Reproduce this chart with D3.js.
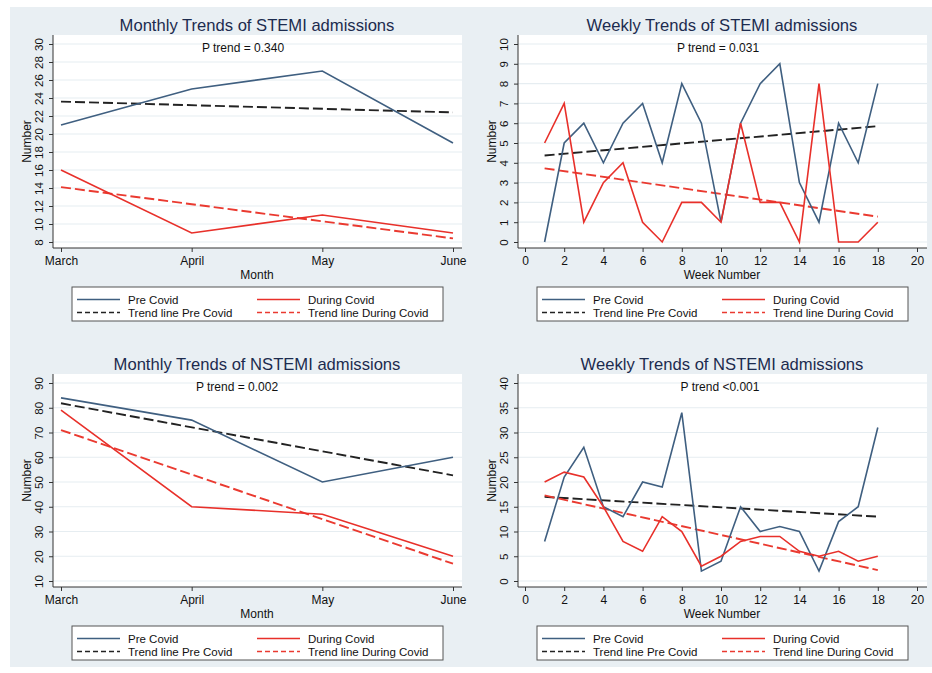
<!DOCTYPE html>
<html><head><meta charset="utf-8">
<script src="https://cdn.jsdelivr.net/npm/d3@7"></script>
<style>body{margin:0;background:#fff}svg{display:block;font-family:"Liberation Sans",Arial,sans-serif}</style>
</head><body><svg id="c" width="932" height="673"></svg>
<script>
// ---------- data ----------
const months = ["March","April","May","June"];
const weeks = [1,2,3,4,5,6,7,8,9,10,11,12,13,14,15,16,17,18];

const stemiMonthPre    = [21,25,27,19];
const stemiMonthDuring = [16,9,11,9];
const stemiMonthTrendPre    = [23.6,22.4];
const stemiMonthTrendDuring = [14.1,8.4];

const stemiWeekPre    = [0,5,6,4,6,7,4,8,6,1,6,8,9,3,1,6,4,8];
const stemiWeekDuring = [5,7,1,3,4,1,0,2,2,1,6,2,2,0,8,0,0,1];
const stemiWeekTrendPre    = [4.37,5.85];
const stemiWeekTrendDuring = [3.72,1.28];

const nstemiMonthPre    = [84,75,50,60];
const nstemiMonthDuring = [79,40,37,20];
const nstemiMonthTrendPre    = [81.8,52.7];
const nstemiMonthTrendDuring = [71,17];

const nstemiWeekPre    = [8,21,27,15,13,20,19,34,2,4,15,10,11,10,2,12,15,31];
const nstemiWeekDuring = [20,22,21,15,8,6,13,10,3,5,8,9,9,6,5,6,4,5];
const nstemiWeekTrendPre    = [17,13];
const nstemiWeekTrendDuring = [17.3,2.2];

const stemiMonthTicks = [8,10,12,14,16,18,20,22,24,26,28,30];
const stemiWeekTicks = [0,1,2,3,4,5,6,7,8,9,10];
const nstemiMonthTicks = [10,20,30,40,50,60,70,80,90];
const nstemiWeekTicks = [0,5,10,15,20,25,30,35,40];
const weekTicks = [0,2,4,6,8,10,12,14,16,18,20];

const legendLabels = ["Pre Covid","During Covid","Trend line Pre Covid","Trend line During Covid"];

// ---------- style ----------
const C_PRE = "#3f5f80", C_DUR = "#e8302a", C_TPRE = "#222", C_TDUR = "#ea3a30";
const BG = "#e9eff3", GRID = "#e6edf1";

const svg = d3.select("#c");
svg.append("rect").attr("x",10).attr("y",7).attr("width",922).attr("height",660).attr("fill",BG);

function panel(o){
  const g = svg.append("g").attr("transform",`translate(${o.dx},${o.dy})`);
  const L=53, R=460, T=35, B=248;
  g.append("rect").attr("x",L).attr("y",T).attr("width",R-L+2).attr("height",B-T).attr("fill","#fff");
  const y = d3.scaleLinear().domain(o.ydom).range([242,44]);
  let x, xs;
  if(o.monthly){
    x = d3.scaleLinear().domain([0,3]).range([61,453]);
    xs = months.map((m,i)=>i);
  } else {
    x = d3.scaleLinear().domain([0,20]).range([525-465,917-465]);
    xs = weeks;
  }
  // gridlines
  g.append("g").selectAll("line").data(o.yticks).join("line")
    .attr("x1",L).attr("x2",R+2).attr("y1",d=>y(d)).attr("y2",d=>y(d))
    .attr("stroke",GRID).attr("stroke-width",1.2);
  // y axis
  const ya = d3.axisLeft(y).tickValues(o.yticks).tickSize(4).tickPadding(3);
  const yg = g.append("g").attr("transform",`translate(${L},0)`).call(ya);
  yg.select(".domain").remove();
  yg.selectAll(".tick line").attr("stroke","#333");
  yg.selectAll(".tick text").attr("font-size",11.5).attr("fill","#111")
    .attr("text-anchor","middle").attr("x",null).attr("dy",null)
    .attr("transform","translate(-10,0) rotate(-90)");
  g.append("line").attr("x1",L).attr("x2",L).attr("y1",T).attr("y2",B).attr("stroke","#333");
  // x axis
  const xa = d3.axisBottom(x).tickSize(4).tickPadding(4);
  if(o.monthly) xa.tickValues([0,1,2,3]).tickFormat(i=>months[i]);
  else xa.tickValues(weekTicks);
  const xg = g.append("g").attr("transform",`translate(0,${B})`).call(xa);
  xg.select(".domain").remove();
  xg.selectAll(".tick line").attr("stroke","#333");
  xg.selectAll(".tick text").attr("font-size",12).attr("fill","#111");
  g.append("line").attr("x1",L).attr("x2",R+2).attr("y1",B).attr("y2",B).attr("stroke","#333");
  // axis titles
  g.append("text").attr("transform",`translate(31,${(T+B)/2}) rotate(-90)`).attr("text-anchor","middle")
    .attr("font-size",12).attr("fill","#111").text("Number");
  g.append("text").attr("x",257).attr("y",279).attr("text-anchor","middle").attr("font-size",12)
    .attr("fill","#111").text(o.monthly?"Month":"Week Number");
  // title + p trend
  g.append("text").attr("x",257).attr("y",31).attr("text-anchor","middle").attr("font-size",16.6)
    .attr("fill","#1c2b4e").text(o.title);
  g.append("text").attr("x",o.px).attr("y",52).attr("text-anchor","middle").attr("font-size",12)
    .attr("fill","#111").text(o.ptext);
  // lines
  const line = d3.line().x(d=>x(d[0])).y(d=>y(d[1]));
  const first = xs[0], last = xs[xs.length-1];
  g.append("path").attr("d",line([[first,o.tPre[0]],[last,o.tPre[1]]])).attr("fill","none")
    .attr("stroke",C_TPRE).attr("stroke-width",1.9).attr("stroke-dasharray","10,4");
  g.append("path").attr("d",line([[first,o.tDur[0]],[last,o.tDur[1]]])).attr("fill","none")
    .attr("stroke",C_TDUR).attr("stroke-width",1.9).attr("stroke-dasharray","10,4");
  g.append("path").attr("d",line(xs.map((v,i)=>[v,o.pre[i]]))).attr("fill","none")
    .attr("stroke",C_PRE).attr("stroke-width",1.6);
  g.append("path").attr("d",line(xs.map((v,i)=>[v,o.dur[i]]))).attr("fill","none")
    .attr("stroke",C_DUR).attr("stroke-width",1.6);
  // legend
  const lg = g.append("g").attr("transform","translate(72,287)");
  lg.append("rect").attr("x",0).attr("y",0).attr("width",371).attr("height",34)
    .attr("fill","#fff").attr("stroke","#555").attr("stroke-width",1);
  const items = [
    {c:C_PRE,d:null,t:legendLabels[0],x:5,y:12.5},
    {c:C_DUR,d:null,t:legendLabels[1],x:185,y:12.5},
    {c:C_TPRE,d:"5,3",t:legendLabels[2],x:5,y:25.5},
    {c:C_TDUR,d:"5,3",t:legendLabels[3],x:185,y:25.5}];
  items.forEach(it=>{
    lg.append("line").attr("x1",it.x).attr("x2",it.x+43).attr("y1",it.y).attr("y2",it.y)
      .attr("stroke",it.c).attr("stroke-width",1.6).attr("stroke-dasharray",it.d);
    lg.append("text").attr("x",it.x+51).attr("y",it.y+4).attr("font-size",11.5)
      .attr("fill","#111").text(it.t);
  });
}

panel({dx:0,dy:0,monthly:true,ydom:[8,30],yticks:stemiMonthTicks,title:"Monthly Trends of STEMI admissions",
  ptext:"P trend = 0.340",px:243,pre:stemiMonthPre,dur:stemiMonthDuring,tPre:stemiMonthTrendPre,tDur:stemiMonthTrendDuring});
panel({dx:465,dy:0,monthly:false,ydom:[0,10],yticks:stemiWeekTicks,title:"Weekly Trends of STEMI admissions",
  ptext:"P trend = 0.031",px:253,pre:stemiWeekPre,dur:stemiWeekDuring,tPre:stemiWeekTrendPre,tDur:stemiWeekTrendDuring});
panel({dx:0,dy:339,monthly:true,ydom:[10,90],yticks:nstemiMonthTicks,title:"Monthly Trends of NSTEMI admissions",
  ptext:"P trend = 0.002",px:237,pre:nstemiMonthPre,dur:nstemiMonthDuring,tPre:nstemiMonthTrendPre,tDur:nstemiMonthTrendDuring});
panel({dx:465,dy:339,monthly:false,ydom:[0,40],yticks:nstemiWeekTicks,title:"Weekly Trends of NSTEMI admissions",
  ptext:"P trend <0.001",px:255,pre:nstemiWeekPre,dur:nstemiWeekDuring,tPre:nstemiWeekTrendPre,tDur:nstemiWeekTrendDuring});
</script></body></html>
